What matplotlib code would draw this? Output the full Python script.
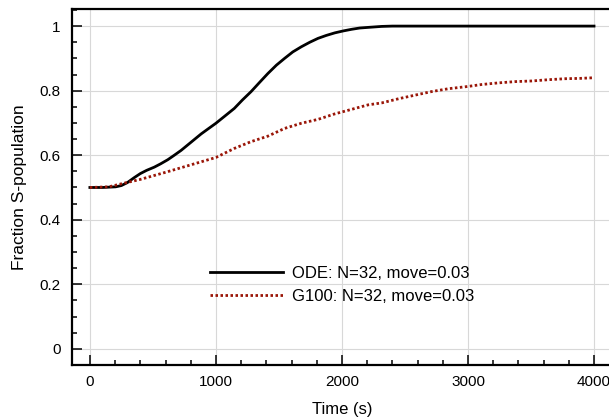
import numpy as np
import matplotlib
matplotlib.use('Agg')
import matplotlib.pyplot as plt
from matplotlib.ticker import MultipleLocator

plt.rcParams['font.family'] = ['Liberation Sans', 'DejaVu Sans']

# ODE curve
t_ode = [0, 100, 205, 250, 297, 350, 400, 450, 511, 560, 618, 670, 724, 777, 830,
         883, 936, 1000, 1070, 1146, 1210, 1279, 1345, 1412, 1480, 1545, 1610,
         1678, 1745, 1810, 1875, 1943, 2010, 2076, 2140, 2208, 2315, 2400, 2500,
         3000, 3500, 4000]
s_ode = [0.5, 0.5, 0.502, 0.506, 0.515, 0.53, 0.543, 0.553, 0.563, 0.573, 0.586,
         0.6, 0.615, 0.632, 0.649, 0.666, 0.681, 0.699, 0.721, 0.745, 0.771,
         0.797, 0.825, 0.853, 0.879, 0.90, 0.92, 0.936, 0.95, 0.962, 0.971,
         0.979, 0.985, 0.99, 0.994, 0.996, 0.999, 1.0, 1.0, 1.0, 1.0, 1.0]

# G100 simulation
t_g100 = [0, 150, 268, 400, 600, 800, 1000, 1146, 1279, 1412, 1545, 1678, 1810,
          1943, 2076, 2208, 2315, 2450, 2579, 2710, 2845, 3000, 3108, 3240, 3375,
          3508, 3641, 3773, 3890, 4000]
s_g100 = [0.5, 0.502, 0.513, 0.525, 0.547, 0.57, 0.593, 0.621, 0.642, 0.659,
          0.683, 0.699, 0.711, 0.728, 0.742, 0.756, 0.762, 0.775, 0.786, 0.797,
          0.806, 0.813, 0.819, 0.824, 0.828, 0.830, 0.834, 0.837, 0.838, 0.840]

fig = plt.figure(figsize=(6.09, 4.18), dpi=100)
ax = fig.add_axes([0.118, 0.1268, 0.887, 0.8517])

ax.plot(t_ode, s_ode, color='black', lw=2.0, solid_joinstyle='round',
        label='ODE: N=32, move=0.03')
ax.plot(t_g100, s_g100, color='#9a1608', lw=2.0, ls=(0, (0.9, 0.9)),
        label='G100: N=32, move=0.03')

ax.set_xlim(-143, 4143)
ax.set_ylim(-0.05, 1.053)
ax.xaxis.set_major_locator(MultipleLocator(1000))
ax.xaxis.set_minor_locator(MultipleLocator(200))
ax.yaxis.set_minor_locator(MultipleLocator(0.05))
ax.set_yticks([0, 0.2, 0.4, 0.6, 0.8, 1.0])
ax.set_yticklabels(['0', '0.2', '0.4', '0.6', '0.8', '1'])
ax.tick_params(which='both', direction='in', width=1.1, labelsize=11)
ax.tick_params(which='major', length=7)
ax.tick_params(which='minor', length=3.5)
ax.tick_params(axis='y', pad=8)
ax.tick_params(axis='x', pad=7.5)
ax.grid(True, which='major', color='#d8d8d8', lw=0.8)
for sp in ax.spines.values():
    sp.set_linewidth(1.6)

ax.set_xlabel('Time (s)', fontsize=12, labelpad=9)
ax.set_ylabel('Fraction S-population', fontsize=12.5, labelpad=9)

ax.legend(loc='center left', bbox_to_anchor=(0.2556, 0.2247), frameon=False,
          fontsize=12, handlelength=4.4, handletextpad=0.55, borderpad=0,
          borderaxespad=0, labelspacing=0.5)

fig.savefig('out.png', dpi=100)
